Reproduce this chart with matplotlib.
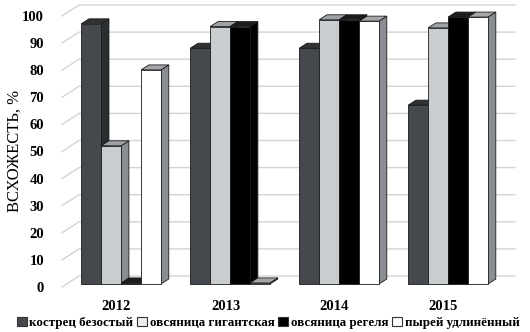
import matplotlib
matplotlib.use('Agg')
import matplotlib.pyplot as plt
from matplotlib.patches import Polygon, Patch
from matplotlib.lines import Line2D
from matplotlib.transforms import ScaledTranslation, IdentityTransform
import numpy as np

years = ['2012', '2013', '2014', '2015']
series_names = ['кострец безостый', 'овсяница гигантская', 'овсяница регеля', 'пырей удлинённый']
kostrets = [96, 87, 87, 66]
ovs_gigant = [51, 95, 97.5, 94.5]
ovs_regel = [0.4, 95, 97.5, 98.5]
pyrey = [79, 0.4, 97, 98.5]
values = [kostrets, ovs_gigant, ovs_regel, pyrey]
yticks = [0, 10, 20, 30, 40, 50, 60, 70, 80, 90, 100]

front_colors = ['#45494d', '#c9cdd0', '#000000', '#ffffff']
side_colors = ['#2b2e30', '#8a8e92', '#000000', '#8a8e92']
top_colors = ['#303335', '#9ea2a6', '#1c1c1c', '#a4a7aa']
legend_colors = ['#45494d', '#eeeeee', '#000000', '#ffffff']
edge = '#1a1a1a'

W, H = 530, 332
fig = plt.figure(figsize=(W / 100, H / 100), dpi=100)
ax = fig.add_axes([62 / W, 45 / H, 436 / W, 271 / H])
ax.set_xlim(-0.5, 3.5)
ax.set_ylim(0, 100)
for s in ax.spines.values():
    s.set_visible(False)
ax.patch.set_alpha(0)

# 3D geometry in pixels
FLOOR = np.array([17.0, 11.0])   # front -> back wall
FRONT = np.array([4.6, 3.0])     # floor front -> bar front face
DEPTH = np.array([7.8, 5.0])     # bar depth
ident = IdentityTransform()

# gridlines on side wall (diagonal) and back wall
for v in yticks:
    p0 = ax.transData.transform((-0.5, v))
    p1 = p0 + FLOOR
    p2 = ax.transData.transform((3.5, v)) + FLOOR
    ax.add_line(Line2D([p0[0], p1[0], p2[0]], [p0[1], p1[1], p2[1]],
                       transform=ident, color='#d4d4d4', lw=1.0, zorder=0, clip_on=False))

ax.set_yticks(yticks)
ax.set_yticklabels([str(v) for v in yticks], fontfamily='Liberation Serif',
                   fontweight='bold', fontsize=10.5)
ax.tick_params(axis='y', length=0, pad=13)
ax.set_xticks(range(len(years)))
ax.set_xticklabels(years, fontfamily='Liberation Serif', fontweight='bold', fontsize=10.5)
ax.tick_params(axis='x', length=0, pad=9)

bw = 0.183
front_t = ax.transData + ScaledTranslation(FRONT[0] / 100, FRONT[1] / 100, fig.dpi_scale_trans)
z = 2
for gi in range(len(years)):
    for si in range(len(values)):
        x = gi + (si - 1.5) * bw
        v = values[si][gi]
        ax.bar([x], [v], width=bw, color=front_colors[si], edgecolor=edge,
               linewidth=0.6, transform=front_t, zorder=z + 0.5, clip_on=False)
        bl = front_t.transform((x - bw / 2, 0))
        tr = front_t.transform((x + bw / 2, v))
        x0, y0, x1, y1 = bl[0], bl[1], tr[0], tr[1]
        side = Polygon([(x1, y0), (x1 + DEPTH[0], y0 + DEPTH[1]),
                        (x1 + DEPTH[0], y1 + DEPTH[1]), (x1, y1)],
                       closed=True, transform=ident, facecolor=side_colors[si],
                       edgecolor=edge, linewidth=0.6, zorder=z, clip_on=False)
        top = Polygon([(x0, y1), (x0 + DEPTH[0], y1 + DEPTH[1]),
                       (x1 + DEPTH[0], y1 + DEPTH[1]), (x1, y1)],
                      closed=True, transform=ident, facecolor=top_colors[si],
                      edgecolor=edge, linewidth=0.6, zorder=z, clip_on=False)
        ax.add_patch(side)
        ax.add_patch(top)
        z += 1

fig.text(15 / W, 1 - 151 / H, 'ВСХОЖЕСТЬ, %', rotation=90, ha='center', va='center',
         fontfamily='Liberation Serif', fontsize=12)

handles = [Patch(facecolor=legend_colors[i], edgecolor='#333333', linewidth=0.8)
           for i in range(4)]
leg = fig.legend(handles, series_names, loc='lower center', bbox_to_anchor=(0.506, -0.015),
                 ncol=4, frameon=False, handlelength=0.75, handleheight=0.75,
                 handletextpad=0.2, columnspacing=0.3, borderaxespad=0.2,
                 prop={'family': 'Liberation Serif', 'weight': 'bold', 'size': 9.4})

fig.savefig('out.png', dpi=100)
